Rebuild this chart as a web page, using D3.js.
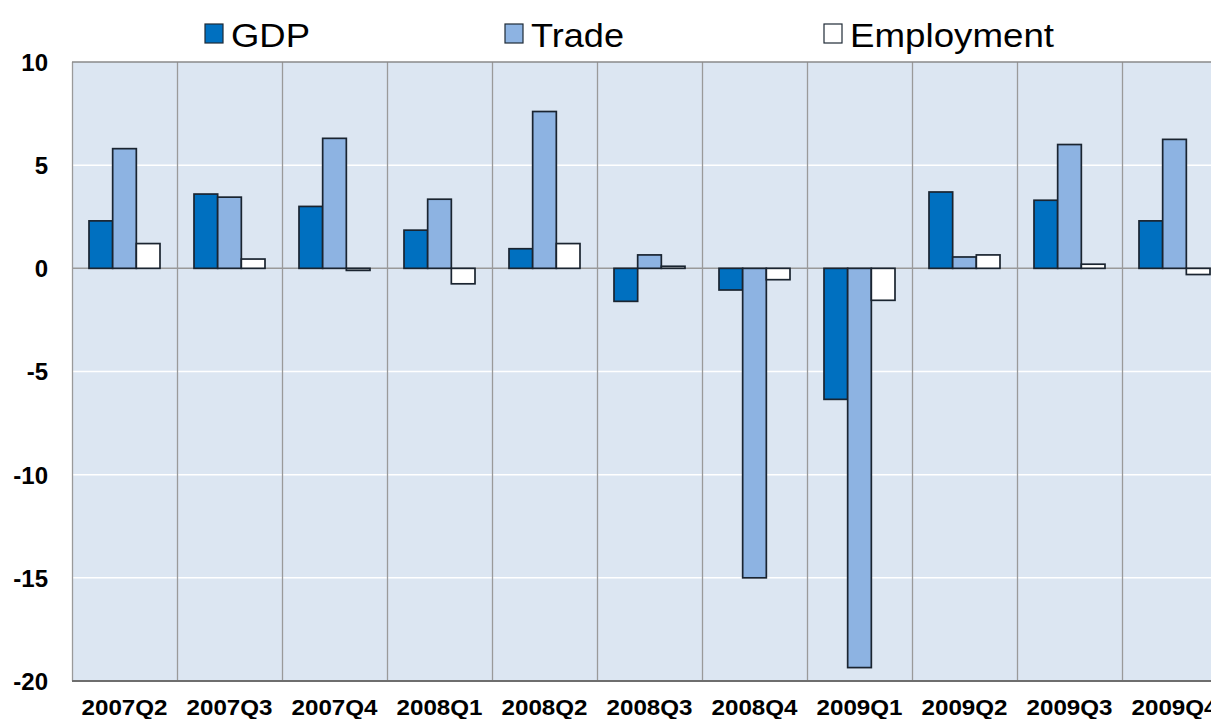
<!DOCTYPE html>
<html>
<head>
<meta charset="utf-8">
<script src="https://cdn.jsdelivr.net/npm/d3@7"></script>
<style>
  html, body { margin: 0; padding: 0; background: #fff; }
  svg { display: block; }
  text { font-family: "Liberation Sans", Arial, sans-serif; }
</style>
</head>
<body>
<svg id="chart" width="1211" height="719"></svg>
<script>
const categories = ["2007Q2","2007Q3","2007Q4","2008Q1","2008Q2","2008Q3","2008Q4","2009Q1","2009Q2","2009Q3","2009Q4"];
const seriesNames = ["GDP","Trade","Employment"];
const gdp        = [2.3, 3.6, 3.0, 1.85, 0.95, -1.6, -1.05, -6.35, 3.7, 3.3, 2.3];
const trade      = [5.8, 3.45, 6.3, 3.35, 7.6, 0.65, -15.0, -19.35, 0.55, 6.0, 6.25];
const employment = [1.2, 0.45, -0.1, -0.75, 1.2, 0.1, -0.55, -1.55, 0.65, 0.2, -0.3];
const yTicks = [10, 5, 0, -5, -10, -15, -20];

const seriesValues = [gdp, trade, employment];
const colors = ["#0070C0", "#8DB3E2", "#FFFFFF"];

const svg = d3.select("#chart");
const plotLeft = 72, plotTop = 62, plotBottom = 681, groupW = 105;
const plotRight = plotLeft + groupW * categories.length;

const x = d3.scaleBand().domain(categories).range([plotLeft, plotRight]).padding(0);
const xs = d3.scaleBand().domain(seriesNames).range([17, 88]).padding(0);
const y = d3.scaleLinear().domain([-20, 10]).range([plotBottom, plotTop]);

// plot background
svg.append("rect").attr("x", plotLeft).attr("y", plotTop)
  .attr("width", plotRight - plotLeft).attr("height", plotBottom - plotTop)
  .attr("fill", "#DCE6F2");

// white gridlines
svg.append("g").selectAll("line").data(yTicks.filter(t => t !== 0 && t !== 10 && t !== -20))
  .join("line")
  .attr("x1", plotLeft).attr("x2", plotRight)
  .attr("y1", d => y(d)).attr("y2", d => y(d))
  .attr("stroke", "#FFFFFF").attr("stroke-width", 1.5);

// vertical separators
svg.append("g").selectAll("line").data(categories)
  .join("line")
  .attr("x1", d => x(d) + 0.5).attr("x2", d => x(d) + 0.5)
  .attr("y1", plotTop).attr("y2", plotBottom)
  .attr("stroke", "#9A9A9A").attr("stroke-width", 1.3);

// zero line
svg.append("line").attr("x1", plotLeft).attr("x2", plotRight)
  .attr("y1", y(0)).attr("y2", y(0))
  .attr("stroke", "#9A9A9A").attr("stroke-width", 1.5);

// borders
svg.append("line").attr("x1", plotLeft).attr("x2", plotRight).attr("y1", plotTop).attr("y2", plotTop)
  .attr("stroke", "#8A8A8A").attr("stroke-width", 1.5);
svg.append("line").attr("x1", plotLeft).attr("x2", plotRight).attr("y1", plotBottom).attr("y2", plotBottom)
  .attr("stroke", "#6E6E6E").attr("stroke-width", 2);

// bars
const data = [];
categories.forEach((c, i) => {
  seriesNames.forEach((s, j) => {
    data.push({ cat: c, series: s, value: seriesValues[j][i], color: colors[j] });
  });
});
svg.append("g").selectAll("rect").data(data).join("rect")
  .attr("x", d => x(d.cat) + xs(d.series))
  .attr("width", xs.bandwidth())
  .attr("y", d => y(Math.max(0, d.value)))
  .attr("height", d => Math.abs(y(d.value) - y(0)))
  .attr("fill", d => d.color)
  .attr("stroke", "#1A2430").attr("stroke-width", 1.7);

// y axis labels
const yAxis = d3.axisLeft(y).tickValues(yTicks).tickSize(0).tickPadding(0).tickFormat(d => String(d));
const gy = svg.append("g").attr("transform", "translate(48,0)").call(yAxis);
gy.select(".domain").remove();
gy.selectAll("text").attr("font-size", 24).attr("font-weight", "bold")
  .attr("fill", "#000").attr("font-family", "Liberation Sans, Arial, sans-serif")
  .attr("dy", "0.35em");

// x axis labels
const xAxis = d3.axisBottom(x).tickSize(0).tickPadding(0);
const gx = svg.append("g").attr("transform", `translate(0,${plotBottom})`).call(xAxis);
gx.select(".domain").remove();
gx.selectAll("text").attr("font-size", 22).attr("font-weight", "bold")
  .attr("fill", "#000").attr("font-family", "Liberation Sans, Arial, sans-serif")
  .attr("y", 34).attr("dy", 0)
  .attr("textLength", 86).attr("lengthAdjust", "spacingAndGlyphs");

// legend
const legendX = [205, 505, 824];
const legendTextW = [79, 93, 204];
const lg = svg.append("g").selectAll("g").data(seriesNames).join("g")
  .attr("transform", (d, i) => `translate(${legendX[i]},0)`);
lg.append("rect").attr("x", 0).attr("y", 24).attr("width", 18).attr("height", 19)
  .attr("fill", (d, i) => colors[i]).attr("stroke", "#1F2A36").attr("stroke-width", 1.2);
lg.append("text").attr("x", 26).attr("y", 47)
  .attr("font-size", 33).attr("fill", "#000")
  .attr("textLength", (d, i) => legendTextW[i]).attr("lengthAdjust", "spacingAndGlyphs")
  .text(d => d);
</script>
</body>
</html>
